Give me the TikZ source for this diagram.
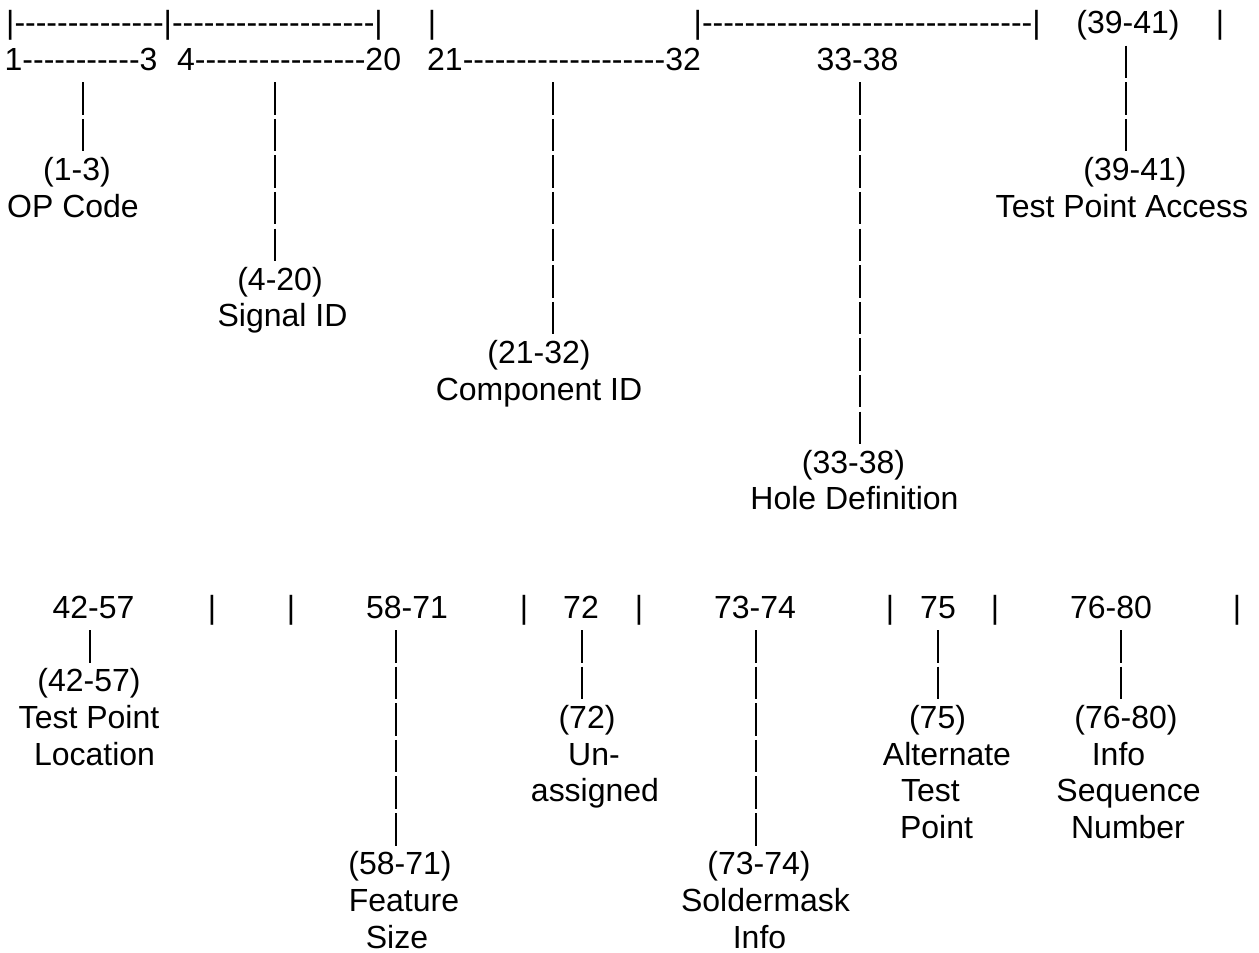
\documentclass[tikz,border=0pt]{standalone}
\usepackage{fontspec}
\setmainfont{Liberation Sans}
\newcommand\hyrun[1]{\count255=0\relax\loop\ifnum\count255<#1\relax\advance\count255 by 1\relax\mbox{-}\repeat}
\begin{document}
\begin{tikzpicture}[x=1pt,y=-1pt,
  every node/.style={inner sep=0pt, font=\fontsize{32}{36.6}\selectfont},
  lbl/.style={anchor=base},
  run/.style={anchor=base west},
  stack/.style={line width=2.9pt, dash pattern=on 32.5pt off 4.1pt}]
\useasboundingbox (0,0) rectangle (1259,953);
% ---------------- top section ----------------
\node[run] (t0a) at (6,34) {|\hyrun{14}|\hyrun{19}|};
\node[lbl] (t0b) at (432,34) {|};
\node[run] (t0c) at (693.5,34) {|\hyrun{31}|};
\node[lbl] (t0d) at (1128,34) {(39-41)};
\node[lbl] (t0e) at (1220,34) {|};
\node[run] (r13) at (4.5,70.6) {1\hyrun{11}3};
\node[run] (r420) at (177,70.6) {4\hyrun{16}20};
\node[run] (r2132) at (427,70.6) {21\hyrun{19}32};
\node[lbl] (r3338) at (857.5,70.6) {33-38};
\node[lbl] (l13) at (77,180.4) {(1-3)};
\node[lbl] (n13) at (73,217) {OP Code};
\node[lbl] (l420) at (280,290.2) {(4-20)};
\node[lbl] (n420) at (282.5,326.8) {Signal ID};
\node[lbl] (l2132) at (539,363.4) {(21-32)};
\node[lbl] (n2132) at (539,400) {Component ID};
\node[lbl] (l3338) at (853.5,473.2) {(33-38)};
\node[lbl] (n3338) at (854.5,509.8) {Hole Definition};
\node[lbl] (l3941) at (1135,180.4) {(39-41)};
\node[lbl] (n3941) at (1122,217) {Test Point Access};
\coordinate (a1) at (83,82.15);    \coordinate (a2) at (83,151.25);
\coordinate (b1) at (275,82.15);   \coordinate (b2) at (275,261.05);
\coordinate (c1) at (553,82.15);   \coordinate (c2) at (553,334.25);
\coordinate (d1) at (860,82.15);   \coordinate (d2) at (860,444.05);
\coordinate (e1) at (1126,45.55);  \coordinate (e2) at (1126,151.25);
\draw[stack] (a1) -- (a2);
\draw[stack] (b1) -- (b2);
\draw[stack] (c1) -- (c2);
\draw[stack] (d1) -- (d2);
\draw[stack] (e1) -- (e2);
% ---------------- bottom section ----------------
\node[lbl] (h4257) at (93.5,618.5) {42-57};
\node[lbl] (s1) at (212,618.5) {|};
\node[lbl] (s2) at (291,618.5) {|};
\node[lbl] (h5871) at (407,618.5) {58-71};
\node[lbl] (s3) at (524,618.5) {|};
\node[lbl] (h72) at (581,618.5) {72};
\node[lbl] (s4) at (639,618.5) {|};
\node[lbl] (h7374) at (755,618.5) {73-74};
\node[lbl] (s5) at (890,618.5) {|};
\node[lbl] (h75) at (938,618.5) {75};
\node[lbl] (s6) at (995,618.5) {|};
\node[lbl] (h7680) at (1111,618.5) {76-80};
\node[lbl] (s7) at (1237,618.5) {|};
\node[lbl] (l4257) at (89,691.8) {(42-57)};
\node[lbl] (n4257a) at (89,728.4) {Test Point};
\node[lbl] (n4257b) at (94.5,765.0) {Location};
\node[lbl] (l72) at (587,728.4) {(72)};
\node[lbl] (n72a) at (594,765.0) {Un-};
\node[lbl] (n72b) at (595,801.6) {assigned};
\node[lbl] (l75) at (937.5,728.4) {(75)};
\node[lbl] (n75a) at (947,765.0) {Alternate};
\node[lbl] (n75b) at (930.5,801.6) {Test};
\node[lbl] (n75c) at (936.5,838.2) {Point};
\node[lbl] (l7680) at (1126,728.4) {(76-80)};
\node[lbl] (n7680a) at (1118.5,765.0) {Info};
\node[lbl] (n7680b) at (1128.5,801.6) {Sequence};
\node[lbl] (n7680c) at (1128,838.2) {Number};
\node[lbl] (l5871) at (400,874.8) {(58-71)};
\node[lbl] (n5871a) at (404,911.4) {Feature};
\node[lbl] (n5871b) at (397,948.0) {Size};
\node[lbl] (l7374) at (759,874.8) {(73-74)};
\node[lbl] (n7374a) at (765.5,911.4) {Soldermask};
\node[lbl] (n7374b) at (759.5,948.0) {Info};
\coordinate (f1) at (90,630.05);   \coordinate (f2) at (90,662.55);
\coordinate (g1) at (396,630.05);  \coordinate (g2) at (396,845.65);
\coordinate (i1) at (582,630.05);  \coordinate (i2) at (582,699.15);
\coordinate (j1) at (756,630.05);  \coordinate (j2) at (756,845.65);
\coordinate (k1) at (938,630.05);  \coordinate (k2) at (938,699.15);
\coordinate (m1) at (1121,630.05); \coordinate (m2) at (1121,699.15);
\draw[stack] (f1) -- (f2);
\draw[stack] (g1) -- (g2);
\draw[stack] (i1) -- (i2);
\draw[stack] (j1) -- (j2);
\draw[stack] (k1) -- (k2);
\draw[stack] (m1) -- (m2);
\end{tikzpicture}
\end{document}
